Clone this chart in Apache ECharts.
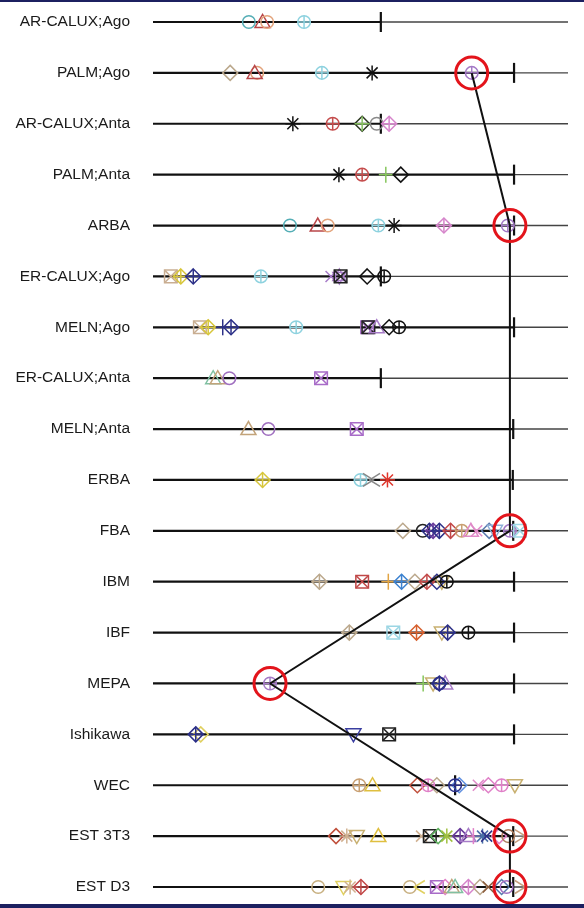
<!DOCTYPE html>
<html><head><meta charset="utf-8">
<script src="https://cdn.jsdelivr.net/npm/echarts@6/dist/echarts.min.js"></script>
<style>html,body{margin:0;padding:0;background:#fff}#c{width:584px;height:908px}</style>
</head><body><div id="c"></div>
<script>
// ---------------- DATA ----------------
const categories = ['AR-CALUX;Ago','PALM;Ago','AR-CALUX;Anta','PALM;Anta','ARBA','ER-CALUX;Ago','MELN;Ago','ER-CALUX;Anta','MELN;Anta','ERBA','FBA','IBM','IBF','MEPA','Ishikawa','WEC','EST 3T3','EST D3'];
const thresholds = [54.9, 87.0, 54.9, 87.0, 87.0, 54.9, 87.0, 54.9, 86.8, 86.7, 86.8, 87.0, 87.0, 87.0, 87.0, 72.8, 86.8, 86.8];

// per-assay results: [score, compound marker id]
const r_ARCALUX_Ago  = [[23.1,'tealO'],[26.4,'redTri'],[27.5,'orangeO'],[36.4,'cyanCP']];
const r_PALM_Ago     = [[18.6,'tanDia'],[25.1,'orangeO'],[24.5,'redTri'],[40.7,'cyanCP'],[52.8,'blackAst'],[76.8,'purpleCP']];
const r_ARCALUX_Anta = [[33.7,'blackAst'],[43.3,'redCP'],[50.4,'greenDiaP'],[53.9,'greyO'],[56.9,'pinkDiaP']];
const r_PALM_Anta    = [[44.8,'blackAst'],[50.4,'redCP'],[56.1,'greenPlus'],[59.7,'blackDia']];
const r_ARBA         = [[33.0,'tealO'],[39.7,'redTri'],[42.1,'orangeO'],[54.3,'cyanCP'],[58.1,'blackAst'],[70.1,'pinkDiaP'],[85.5,'purpleCP']];
const r_ERCALUX_Ago  = [[4.3,'tanBoxX'],[6.7,'yellowDiaP'],[9.7,'navyDiaP'],[26.0,'cyanCP'],[42.9,'purpleX'],[44.9,'purpleStar'],[45.2,'blackBoxX'],[51.6,'blackDia'],[55.7,'blackCP']];
const r_MELN_Ago     = [[11.3,'tanBoxX'],[13.3,'yellowDiaP'],[16.8,'navyPlus'],[18.8,'navyDiaP'],[34.5,'cyanCP'],[51.6,'purpleBoxX'],[51.9,'blackBoxX'],[53.9,'purpleTri'],[56.9,'blackDia'],[59.3,'blackCP']];
const r_ERCALUX_Anta = [[14.5,'tealTri'],[15.6,'tanTri'],[18.4,'purpleO'],[40.5,'purpleBoxX']];
const r_MELN_Anta    = [[23.0,'tanTri'],[27.8,'purpleO'],[49.1,'purpleBoxX']];
const r_ERBA         = [[26.4,'yellowDiaP'],[50.0,'cyanCP'],[51.8,'greyGt'],[53.5,'greyLt'],[56.5,'redAst']];
const r_FBA          = [[60.2,'tanDia'],[65.0,'blackO'],[66.6,'navyDiaP'],[67.5,'purpleDiaP'],[69.0,'navyDiaP'],[71.7,'redDiaP'],[74.4,'tanCP'],[76.6,'pinkTri'],[78.0,'pinkX'],[81.0,'steelDia'],[82.4,'ltblueITri'],[86.0,'purpleCP'],[88.4,'cyanBoxX']];
const r_IBM          = [[40.1,'tanDiaP'],[50.4,'redBoxX'],[56.7,'orangePlus'],[59.9,'blueDiaP'],[63.1,'tanDia'],[66.0,'redDiaP'],[69.6,'tanITri'],[68.4,'navyDia'],[70.8,'blackCP']];
const r_IBF          = [[47.3,'tanDiaP'],[57.9,'cyanBoxX'],[63.5,'orangeDiaP'],[69.6,'tanITri'],[71.0,'navyDiaP'],[76.0,'blackCP']];
const r_MEPA         = [[28.2,'purpleCP'],[65.1,'greenPlus'],[67.5,'tanITri'],[70.4,'purpleTri'],[69.0,'navyDia'],[69.0,'navyCP']];
const r_Ishikawa     = [[11.5,'yellowDia'],[10.3,'navyDiaP'],[48.3,'navyITri'],[56.9,'blackBoxX']];
const r_WEC          = [[49.7,'tanCP'],[52.9,'yellowTri'],[63.7,'redDia'],[66.3,'pinkCP'],[68.4,'tanDia'],[73.8,'blueDia'],[72.8,'navyCP'],[78.4,'pinkX'],[80.8,'pinkDia'],[84.0,'pinkCP'],[87.2,'tanITri']];
const r_EST3T3       = [[44.1,'redDia'],[46.7,'tanAst'],[49.1,'tanITri'],[54.3,'yellowTri'],[64.7,'tanX'],[66.7,'blackBoxX'],[68.7,'greenDia'],[70.8,'lgreenAst'],[74.0,'purpleDiaP'],[76.0,'purpleTri'],[77.2,'pinkPlus'],[79.4,'steelAst'],[80.4,'navyX'],[83.4,'pinkDia'],[85.6,'brownO'],[88.4,'tanGt']];
const r_ESTD3        = [[39.8,'tanO'],[45.9,'yellowITri'],[47.5,'tanAst'],[50.1,'redDiaP'],[61.9,'tanO'],[64.3,'yellowLt'],[68.4,'purpleBoxX'],[70.4,'pinkDia'],[72.0,'tanTri'],[72.8,'tealTri'],[76.0,'pinkDiaP'],[78.8,'tanDia'],[80.8,'brownX'],[84.0,'steelDia'],[85.2,'purpleO'],[88.4,'tanGt']];

const rowResults = [r_ARCALUX_Ago, r_PALM_Ago, r_ARCALUX_Anta, r_PALM_Anta, r_ARBA, r_ERCALUX_Ago, r_MELN_Ago, r_ERCALUX_Anta, r_MELN_Anta, r_ERBA, r_FBA, r_IBM, r_IBF, r_MEPA, r_Ishikawa, r_WEC, r_EST3T3, r_ESTD3];

// highlighted compound traced across assays
const highlightRows   = ['PALM;Ago','ARBA','FBA','MEPA','EST 3T3','EST D3'];
const highlightValues = [76.8, 86.0, 86.0, 28.2, 86.0, 86.0];

// ---------------- STYLE ----------------
const MARKERS = {
  tealO:{s:'o',c:'#55aeb6'}, redTri:{s:'tri',c:'#b9474a'}, orangeO:{s:'o',c:'#e3a47c'}, cyanCP:{s:'cp',c:'#8ed2df'},
  tanDia:{s:'dia',c:'#bba88c'}, blackAst:{s:'ast',c:'#111'}, purpleCP:{s:'cp',c:'#a47ac6'}, redCP:{s:'cp',c:'#c54d4d'},
  greenDiaP:{s:'diap',c:'#2a3520',c2:'#86c060'}, greyO:{s:'o',c:'#8a8a8a'}, pinkDiaP:{s:'diap',c:'#d685cb'},
  greenPlus:{s:'plus',c:'#86c65c'}, blackDia:{s:'dia',c:'#111'}, tanBoxX:{s:'boxx',c:'#c9ae92'},
  yellowDiaP:{s:'diap',c:'#d7c63a'}, navyDiaP:{s:'diap',c:'#2c3088'}, purpleX:{s:'x',c:'#a77cc8'},
  purpleStar:{s:'star',c:'#a77cc8'}, blackBoxX:{s:'boxx',c:'#222'}, blackCP:{s:'cp',c:'#111'},
  navyPlus:{s:'plus',c:'#2c3088'}, purpleTri:{s:'tri',c:'#a77cc8'}, tealTri:{s:'tri',c:'#80c0a2'},
  tanTri:{s:'tri',c:'#c2a37a'}, purpleO:{s:'o',c:'#a070c0'}, purpleBoxX:{s:'boxx',c:'#a86cc8'},
  greyGt:{s:'gt',c:'#888'}, greyLt:{s:'lt',c:'#888'}, redAst:{s:'ast',c:'#e0352b'}, blackO:{s:'o',c:'#222'},
  purpleDiaP:{s:'diap',c:'#6a3c9c'}, redDiaP:{s:'diap',c:'#c24848'}, tanCP:{s:'cp',c:'#c9a072'},
  pinkTri:{s:'tri',c:'#e08ac8'}, pinkX:{s:'x',c:'#e08ac8'}, steelDia:{s:'dia',c:'#5a7aae'},
  ltblueITri:{s:'itri',c:'#8fb0d8'}, cyanBoxX:{s:'boxx',c:'#9cd6e4'}, tanDiaP:{s:'diap',c:'#bba88c'},
  redBoxX:{s:'boxx',c:'#c04848'}, orangePlus:{s:'plus',c:'#e2a544'}, blueDiaP:{s:'diap',c:'#3c82d0'},
  navyDia:{s:'dia',c:'#2c3088'}, tanITri:{s:'itri',c:'#c8b070'}, orangeDiaP:{s:'diap',c:'#d6602e'},
  navyCP:{s:'cp',c:'#2c3088'}, yellowDia:{s:'dia',c:'#e0d060'}, navyITri:{s:'itri',c:'#3a3ea0'},
  yellowTri:{s:'tri',c:'#dfbf40'}, redDia:{s:'dia',c:'#c0503c'}, pinkCP:{s:'cp',c:'#e080c8'},
  blueDia:{s:'dia',c:'#6090e0'}, pinkDia:{s:'dia',c:'#e080c8'}, tanAst:{s:'ast',c:'#d0b090'},
  tanX:{s:'x',c:'#d0b090'}, greenDia:{s:'dia',c:'#60b060'}, lgreenAst:{s:'ast',c:'#a0c040'},
  pinkPlus:{s:'plus',c:'#e080c8'}, steelAst:{s:'ast',c:'#4a70a8'}, navyX:{s:'x',c:'#2c3088'},
  brownO:{s:'o',c:'#b08060'}, tanGt:{s:'gt',c:'#c8a080'}, tanO:{s:'o',c:'#c8b080'},
  yellowITri:{s:'itri',c:'#e0d060'}, yellowLt:{s:'lt',c:'#e0d060'}, brownX:{s:'x',c:'#8a5a3a'}
};

const flat = [];
rowResults.forEach((arr, i) => arr.forEach(([v, id]) => flat.push({ value: [v, i], id })));

function shapeFor(m, cx, cy) {
  const c = m.c, c2 = m.c2 || c, lw = 1.5;
  const L = (x1, y1, x2, y2, col) => ({ type: 'line', shape: { x1, y1, x2, y2 }, style: { stroke: col || c, lineWidth: lw } });
  const P = (pts) => ({ type: 'polygon', shape: { points: pts }, style: { stroke: c, fill: null, lineWidth: lw } });
  const C = (r) => ({ type: 'circle', shape: { cx, cy, r }, style: { stroke: c, fill: null, lineWidth: lw } });
  const d = 7.5;
  const dia = () => P([[cx, cy - d], [cx + d, cy], [cx, cy + d], [cx - d, cy]]);
  switch (m.s) {
    case 'o': return [C(6.3)];
    case 'cp': return [C(6.3), L(cx - 6.3, cy, cx + 6.3, cy), L(cx, cy - 6.3, cx, cy + 6.3)];
    case 'tri': return [P([[cx - 7.5, cy + 5.5], [cx + 7.5, cy + 5.5], [cx, cy - 7.5]])];
    case 'itri': return [P([[cx - 7.5, cy - 5.5], [cx + 7.5, cy - 5.5], [cx, cy + 7.5]])];
    case 'dia': return [dia()];
    case 'diap': return [dia(), L(cx - d, cy, cx + d, cy, c2), L(cx, cy - d, cx, cy + d, c2)];
    case 'plus': return [L(cx - 7, cy, cx + 7, cy), L(cx, cy - 8, cx, cy + 8)];
    case 'x': return [L(cx - 5.5, cy - 5.5, cx + 5.5, cy + 5.5), L(cx - 5.5, cy + 5.5, cx + 5.5, cy - 5.5)];
    case 'ast': return [L(cx - 7.5, cy, cx + 7.5, cy), L(cx, cy - 7.5, cx, cy + 7.5), L(cx - 5.5, cy - 5.5, cx + 5.5, cy + 5.5), L(cx - 5.5, cy + 5.5, cx + 5.5, cy - 5.5)];
    case 'boxx': return [{ type: 'rect', shape: { x: cx - 6.3, y: cy - 6.3, width: 12.6, height: 12.6 }, style: { stroke: c, fill: null, lineWidth: lw } },
      L(cx - 6.3, cy - 6.3, cx + 6.3, cy + 6.3), L(cx - 6.3, cy + 6.3, cx + 6.3, cy - 6.3)];
    case 'star': return [P([[cx - 6.5, cy + 4], [cx + 6.5, cy + 4], [cx, cy - 7.5]]), P([[cx - 6.5, cy - 4], [cx + 6.5, cy - 4], [cx, cy + 7.5]])];
    case 'gt': return [{ type: 'polyline', shape: { points: [[cx - 5, cy - 6.5], [cx + 5.5, cy], [cx - 5, cy + 6.5]] }, style: { stroke: c, fill: null, lineWidth: lw } }];
    case 'lt': return [{ type: 'polyline', shape: { points: [[cx + 5, cy - 6.5], [cx - 5.5, cy], [cx + 5, cy + 6.5]] }, style: { stroke: c, fill: null, lineWidth: lw } }];
  }
  return [];
}

const chart = echarts.init(document.getElementById('c'), null, { renderer: 'canvas' });
chart.setOption({
  animation: false,
  backgroundColor: '#fff',
  grid: { left: 153, right: 16, top: 22, bottom: 21, containLabel: false, outerBoundsMode: 'none' },
  xAxis: { type: 'value', min: 0, max: 100, show: false },
  yAxis: {
    type: 'category', data: categories, inverse: true, boundaryGap: false,
    axisLine: { show: false }, axisTick: { show: false }, splitLine: { show: false },
    axisLabel: { fontSize: 15.5, color: '#1a1a1a', margin: 23, fontFamily: 'Liberation Sans, Arial, sans-serif' }
  },
  graphic: [
    { type: 'rect', left: 0, top: 0, shape: { width: 584, height: 2 }, style: { fill: '#1c2060' }, z: 100 },
    { type: 'rect', left: 0, top: 904, shape: { width: 584, height: 4 }, style: { fill: '#1c2060' }, z: 100 }
  ],
  series: [
    {
      type: 'custom', z: 1, silent: true,
      data: thresholds.map((t, i) => [t, i]),
      renderItem: (params, api) => {
        const i = api.value(1), t = api.value(0);
        const a = api.coord([0, i]), b = api.coord([t, i]), e = api.coord([100, i]);
        return { type: 'group', children: [
          { type: 'line', shape: { x1: b[0], y1: b[1], x2: e[0], y2: e[1] }, style: { stroke: '#444', lineWidth: 1.4 } },
          { type: 'line', shape: { x1: a[0], y1: a[1], x2: b[0], y2: b[1] }, style: { stroke: '#111', lineWidth: 2.2 } },
          { type: 'line', shape: { x1: b[0], y1: b[1] - 10, x2: b[0], y2: b[1] + 10 }, style: { stroke: '#111', lineWidth: 2.2 } }
        ] };
      }
    },
    {
      type: 'custom', z: 2, silent: true,
      data: flat.map(d => d.value),
      renderItem: (params, api) => {
        const p = api.coord([api.value(0), api.value(1)]);
        const m = MARKERS[flat[params.dataIndex].id];
        return { type: 'group', children: shapeFor(m, p[0], p[1]), style: { opacity: 0.9 } };
      }
    },
    {
      type: 'line', z: 3, symbol: 'none', silent: true,
      data: highlightRows.map((r, i) => [highlightValues[i], r]),
      lineStyle: { color: '#111', width: 2 }
    },
    {
      type: 'scatter', z: 4, silent: true, symbol: 'circle', symbolSize: 32,
      data: highlightRows.map((r, i) => [highlightValues[i], r]),
      itemStyle: { color: 'rgba(0,0,0,0)', borderColor: '#e3141b', borderWidth: 3, opacity: 1 }
    }
  ]
});
</script></body></html>
